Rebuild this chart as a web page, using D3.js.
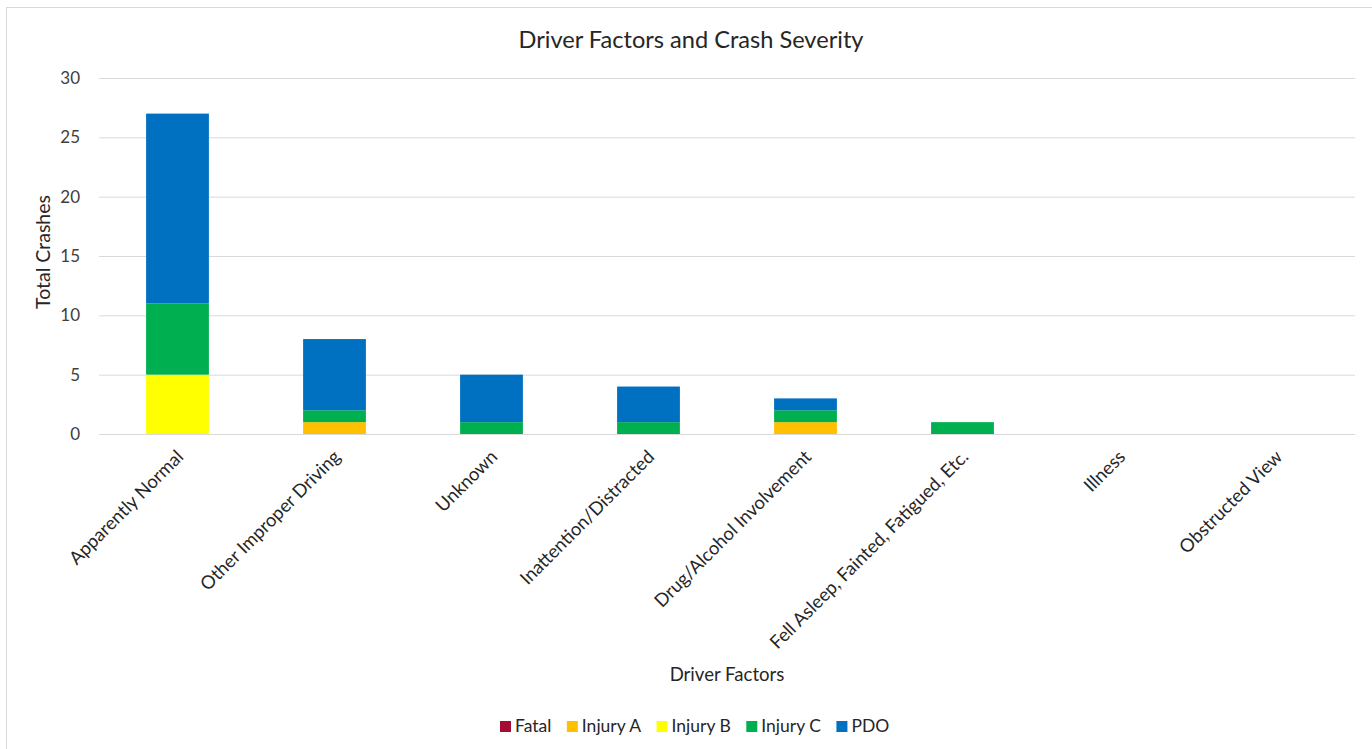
<!DOCTYPE html>
<html>
<head>
<meta charset="utf-8">
<script src="https://cdn.jsdelivr.net/npm/d3@7/dist/d3.min.js"></script>
<style>
  html, body { margin: 0; padding: 0; background: #fff; }
  svg { display: block; font-family: Lato, "Open Sans", sans-serif; }
</style>
</head>
<body>
<svg id="chart" width="1372" height="749"></svg>
<script>
// Driver factors, in display order
const categories = [
  "Apparently Normal",
  "Other Improper Driving",
  "Unknown",
  "Inattention/Distracted",
  "Drug/Alcohol Involvement",
  "Fell Asleep, Fainted, Fatigued, Etc.",
  "Illness",
  "Obstructed View"
];

// Crash counts by severity for each factor
const fatal   = [0, 0, 0, 0, 0, 0, 0, 0];
const injuryA = [0, 1, 0, 0, 1, 0, 0, 0];
const injuryB = [5, 0, 0, 0, 0, 0, 0, 0];
const injuryC = [6, 1, 1, 1, 1, 1, 0, 0];
const pdo     = [16, 6, 4, 3, 1, 0, 0, 0];

const seriesNames = ["Fatal", "Injury A", "Injury B", "Injury C", "PDO"];
const seriesValues = [fatal, injuryA, injuryB, injuryC, pdo];
const seriesColors = ["#A50D35", "#FFC000", "#FFFF00", "#00B050", "#0070C0"];

const yTicks = [0, 5, 10, 15, 20, 25, 30];

const svg = d3.select("#chart");
const W = 1372, H = 749;
const plot = { left: 99, right: 1355, top: 78, bottom: 434 };

// chart frame
svg.append("rect")
  .attr("x", 6.5).attr("y", 7.5)
  .attr("width", W + 10).attr("height", H + 10)
  .attr("fill", "#fff").attr("stroke", "#d9d9d9").attr("stroke-width", 1);

const rows = categories.map((c, i) => {
  const r = { category: c };
  seriesNames.forEach((s, k) => r[s] = seriesValues[k][i]);
  return r;
});

const stack = d3.stack().keys(seriesNames)(rows);

const x = d3.scaleBand().domain(categories)
  .range([plot.left, plot.right]).paddingInner(0.6).paddingOuter(0.3);
const y = d3.scaleLinear().domain([0, 30]).range([plot.bottom, plot.top]);

// gridlines and y tick labels
const yAxis = d3.axisLeft(y).tickValues(yTicks)
  .tickSize(-(plot.right - plot.left)).tickPadding(19);
const gy = svg.append("g").attr("transform", `translate(${plot.left},0)`).call(yAxis);
gy.select(".domain").remove();
gy.selectAll(".tick line").attr("stroke", "#d9d9d9").attr("stroke-width", 1);
gy.selectAll(".tick text").attr("fill", "#404040").attr("font-size", 17)
  .attr("font-family", "Lato, sans-serif");

// stacked bars
svg.append("g").selectAll("g")
  .data(stack).join("g")
  .attr("fill", (d, i) => seriesColors[i])
  .selectAll("rect")
  .data(d => d.filter(p => p[1] - p[0] > 0))
  .join("rect")
  .attr("x", d => x(d.data.category))
  .attr("width", x.bandwidth())
  .attr("y", d => y(d[1]))
  .attr("height", d => y(d[0]) - y(d[1]));

// category labels
const xAxis = d3.axisBottom(x).tickSize(0).tickPadding(0);
const gx = svg.append("g").attr("transform", `translate(0,${plot.bottom})`).call(xAxis);
gx.select(".domain").remove();
gx.selectAll(".tick text")
  .attr("fill", "#262626").attr("font-size", 18.4)
  .attr("font-family", "Lato, sans-serif")
  .attr("text-anchor", "end")
  .attr("dy", 0)
  .attr("transform", "translate(7,24) rotate(-45)");

// title
svg.append("text")
  .attr("x", 691).attr("y", 48)
  .attr("text-anchor", "middle")
  .attr("font-size", 23.6).attr("fill", "#262626")
  .text("Driver Factors and Crash Severity");

// axis titles
svg.append("text")
  .attr("transform", `translate(50,${(plot.top + plot.bottom) / 2 - 4}) rotate(-90)`)
  .attr("text-anchor", "middle").attr("font-size", 19.5).attr("fill", "#262626")
  .text("Total Crashes");

svg.append("text")
  .attr("x", 727).attr("y", 681)
  .attr("text-anchor", "middle").attr("font-size", 18.6).attr("fill", "#262626")
  .text("Driver Factors");

// legend
const legend = svg.append("g").attr("transform", "translate(500,721)");
let lx = 0;
seriesNames.forEach((s, i) => {
  const g = legend.append("g").attr("transform", `translate(${lx},0)`);
  g.append("rect").attr("width", 11).attr("height", 11).attr("fill", seriesColors[i]);
  const t = g.append("text").attr("x", 15).attr("y", 10.5)
    .attr("font-size", 17.5).attr("fill", "#262626").text(s);
  lx += 15 + t.node().getComputedTextLength() + 15.5;
});
</script>
</body>
</html>
